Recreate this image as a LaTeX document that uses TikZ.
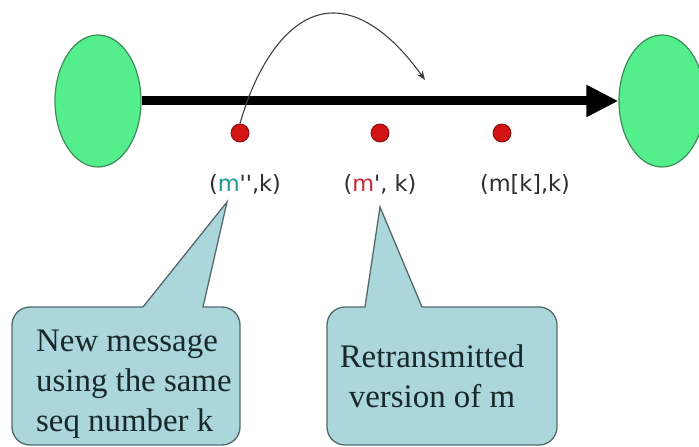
\documentclass[tikz,border=0pt]{standalone}
\usepackage{fontspec}
\setmainfont{Liberation Serif}
\newfontfamily\labfont{DejaVu Sans}
\usetikzlibrary{arrows.meta,shapes.geometric}
\definecolor{ellfill}{RGB}{85,238,140}
\definecolor{elldraw}{RGB}{60,140,90}
\definecolor{dotred}{RGB}{210,20,20}
\definecolor{dotdraw}{RGB}{130,10,10}
\definecolor{calfill}{RGB}{170,214,220}
\definecolor{caldraw}{RGB}{85,105,105}
\definecolor{labgray}{RGB}{45,45,45}
\definecolor{mteal}{RGB}{30,150,145}
\definecolor{mred}{RGB}{200,40,50}
\definecolor{ctextcol}{RGB}{25,40,40}
\begin{document}
\begin{tikzpicture}[x=1bp,y=-1bp,
  host/.style={ellipse,draw=elldraw,line width=1.2bp,fill=ellfill,minimum width=86bp,minimum height=132bp,inner sep=0},
  pkt/.style={circle,fill=dotred,draw=dotdraw,line width=0.8bp,minimum size=18bp,inner sep=0},
  lab/.style={font=\labfont\fontsize{22.5}{26}\selectfont,text=labgray,inner sep=0,anchor=base},
  callout/.style={draw=caldraw,fill=calfill,line width=1.3bp},
  ctext/.style={font=\fontsize{33}{40}\selectfont,text=ctextcol,inner sep=0}]
\useasboundingbox (0,0) rectangle (699,447);
\fill[white] (0,0) rectangle (699,447);
\node[host] (L) at (98,101) {};
\node[host] (R) at (662,101) {};
\draw[line width=9bp,-{Triangle[length=32bp,width=30bp]}] (L.east) -- (R.west);
\node[pkt] (d1) at (240,133) {};
\node[pkt] (d2) at (380,133) {};
\node[pkt] (d3) at (502,133) {};
\coordinate (ce) at (425,80);
\draw[line width=1.1bp,draw=black!75,-{Stealth[length=9bp,width=7bp]}] (d1.north) .. controls (258,60) and (292,13) .. (333,13) .. controls (368,13) and (400,45) .. (ce);
\node[lab] (l1) at (245,192) {(\textcolor{mteal}{m}'',k)};
\node[lab] (l2) at (380,192) {(\textcolor{mred}{m}', k)};
\node[lab] (l3) at (525,192) {(m[k],k)};
\draw[callout,rounded corners=18bp] (143,307) -- (12,307) -- (12,445) -- (240,445) -- (240,307) [sharp corners] -- (203,307) -- (227,202) -- cycle;
\draw[callout,rounded corners=18bp] (365,307) -- (327,307) -- (327,445) -- (557,445) -- (557,307) [sharp corners] -- (422,307) -- (380,207) -- cycle;
\node[ctext,align=left,anchor=base west] (t1) at (36,431) {New message\\using the same\\seq number k};
\node[ctext,align=center,anchor=base] (t2) at (432,407) {\fontsize{33}{42}\selectfont Retransmitted\\version of m};
\end{tikzpicture}
\end{document}
